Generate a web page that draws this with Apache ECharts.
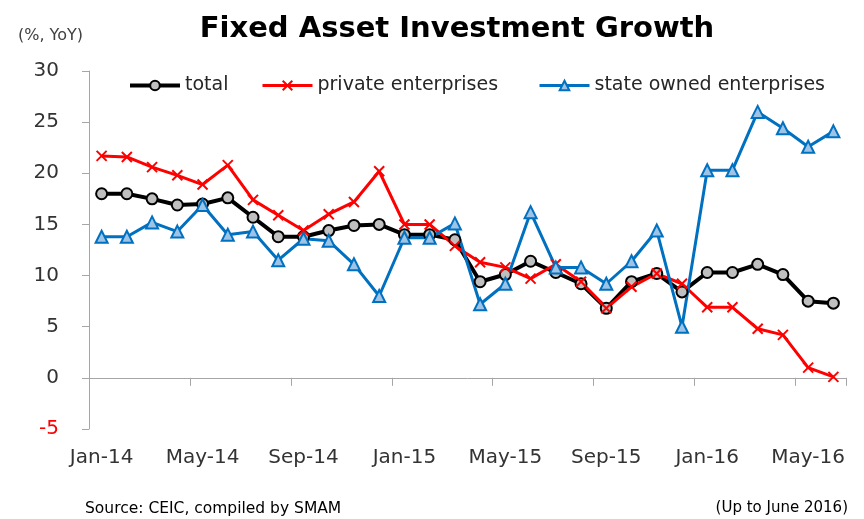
<!DOCTYPE html>
<html>
<head>
<meta charset="utf-8">
<script src="https://cdn.jsdelivr.net/npm/echarts@6/dist/echarts.min.js"></script>
<style>html,body{margin:0;padding:0;background:#fff;}#c{width:864px;height:519px;}</style>
</head>
<body>
<div id="c"></div>
<script>
const months = ['Jan-14','Feb-14','Mar-14','Apr-14','May-14','Jun-14','Jul-14','Aug-14','Sep-14','Oct-14','Nov-14','Dec-14',
  'Jan-15','Feb-15','Mar-15','Apr-15','May-15','Jun-15','Jul-15','Aug-15','Sep-15','Oct-15','Nov-15','Dec-15',
  'Jan-16','Feb-16','Mar-16','Apr-16','May-16','Jun-16'];
const total = [18.0, 18.0, 17.5, 16.9, 17.0, 17.6, 15.7, 13.8, 13.8, 14.4, 14.9, 15.0, 14.0, 14.0, 13.5, 9.4, 10.1, 11.4, 10.3, 9.2, 6.8, 9.4, 10.2, 8.4, 10.3, 10.3, 11.1, 10.1, 7.5, 7.3];
const privateEnt = [21.7, 21.6, 20.6, 19.8, 18.9, 20.8, 17.4, 15.9, 14.4, 16.0, 17.2, 20.2, 15.0, 15.0, 12.9, 11.3, 10.8, 9.7, 11.1, 9.4, 6.8, 8.9, 10.2, 9.2, 6.9, 6.9, 4.8, 4.2, 1.0, 0.1];
const stateEnt = [13.8, 13.8, 15.2, 14.3, 16.9, 14.0, 14.3, 11.5, 13.6, 13.4, 11.1, 8.0, 13.7, 13.7, 15.1, 7.2, 9.2, 16.2, 10.8, 10.8, 9.2, 11.4, 14.4, 5.0, 20.3, 20.3, 26.0, 24.4, 22.6, 24.1];
const seriesNames = ['total', 'private enterprises', 'state owned enterprises'];
const yTicks = {min: -5, max: 30, interval: 5};

const FONT = 'DejaVu Sans';
const chart = echarts.init(document.getElementById('c'), null, {renderer: 'canvas'});
const legendBase = {
  top: 71, itemWidth: 50, itemHeight: 12, itemGap: 5,
  lineStyle: {width: 'inherit'},
  textStyle: {fontFamily: FONT, fontSize: 19, color: '#262626'}
};
chart.setOption({
  animation: false,
  backgroundColor: '#fff',
  title: {
    text: 'Fixed Asset Investment Growth', left: 452, top: 10, textAlign: 'center',
    textStyle: {fontFamily: FONT, fontSize: 29, fontWeight: 'bold', color: '#000'}
  },
  legend: [
    Object.assign({left: 123, data: [seriesNames[0]]}, legendBase),
    Object.assign({left: 256, data: [seriesNames[1]]}, legendBase),
    Object.assign({left: 533, data: [seriesNames[2]]}, legendBase)
  ],
  grid: {left: 89, right: 18, top: 71, bottom: 90, containLabel: false},
  xAxis: [
    {
      type: 'category', data: months, boundaryGap: true,
      axisLine: {onZero: true, lineStyle: {color: '#A6A6A6', width: 1}},
      axisTick: {show: true, interval: 3, length: 8, lineStyle: {color: '#A6A6A6'}},
      axisLabel: {show: false},
      splitLine: {show: false}
    },
    {
      type: 'category', data: months, boundaryGap: true, position: 'bottom',
      axisLine: {show: false, onZero: false},
      axisTick: {show: false},
      axisLabel: {interval: 3, margin: 19, fontFamily: FONT, fontSize: 20, color: '#333'},
      splitLine: {show: false}
    }
  ],
  yAxis: {
    type: 'value', min: yTicks.min, max: yTicks.max, interval: yTicks.interval,
    axisLine: {show: true, lineStyle: {color: '#A6A6A6', width: 1}},
    axisTick: {show: true, length: 7, lineStyle: {color: '#A6A6A6'}},
    axisLabel: {margin: 30, fontFamily: FONT, fontSize: 20,
      color: function (v) { return Number(v) < 0 ? '#FF0000' : '#333'; }},
    splitLine: {show: false}
  },
  graphic: [
    {type: 'text', left: 18, top: 28, style: {text: '(%, YoY)', font: '16px "DejaVu Sans"', fill: '#404040'}},
    {type: 'text', left: 85, top: 501, style: {text: 'Source: CEIC, compiled by SMAM', font: '15.5px "DejaVu Sans"', fill: '#000'}},
    {type: 'text', right: 16, top: 501, style: {text: '(Up to June 2016)', font: '15px "DejaVu Sans"', fill: '#000'}}
  ],
  series: [
    {
      name: seriesNames[0], type: 'line', data: total, xAxisIndex: 0,
      symbol: 'circle', symbolSize: 11, showAllSymbol: true,
      lineStyle: {color: '#000', width: 4},
      itemStyle: {color: '#BFBFBF', borderColor: '#000', borderWidth: 2}
    },
    {
      name: seriesNames[1], type: 'line', data: privateEnt, xAxisIndex: 0,
      symbol: 'path://M0,0L10,10M10,0L0,10', symbolSize: 10, showAllSymbol: true,
      lineStyle: {color: '#FF0000', width: 3},
      itemStyle: {color: 'rgba(0,0,0,0)', borderColor: '#FF0000', borderWidth: 2}
    },
    {
      name: seriesNames[2], type: 'line', data: stateEnt, xAxisIndex: 0,
      symbol: 'triangle', symbolSize: 12, showAllSymbol: true,
      lineStyle: {color: '#0070C0', width: 3},
      itemStyle: {color: '#9DC3E6', borderColor: '#0070C0', borderWidth: 2}
    }
  ]
});
</script>
</body>
</html>
